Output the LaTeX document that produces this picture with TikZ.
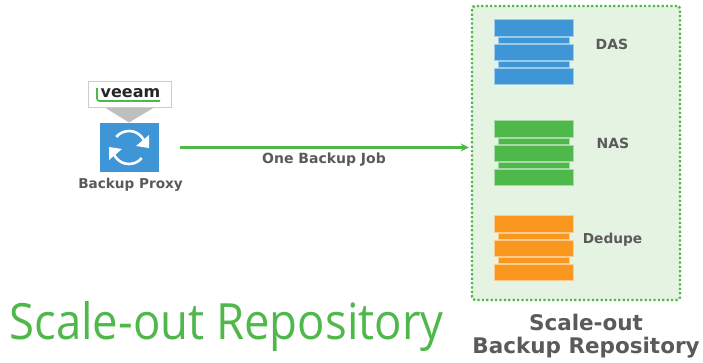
\documentclass[tikz,border=0pt]{standalone}
\usepackage{fontspec}
\setmainfont{DejaVu Sans}
\newfontfamily\titlefont{Open Sans}
\usetikzlibrary{arrows.meta}
\definecolor{vblue}{HTML}{3E96D6}
\definecolor{vgreen}{HTML}{4FB84B}
\definecolor{vorange}{HTML}{F9971E}
\definecolor{vtext}{HTML}{5A5A5A}
\definecolor{vpale}{HTML}{E5F3E2}
\tikzset{
  px/.style={x=1pt,y=-1pt},
  lbl/.style={text=vtext,font=\bfseries\fontsize{#1}{#1}\selectfont,inner sep=0pt,align=center},
  disk/.style={draw=white!50!#1,line width=.4pt,fill=#1},
  link/.style={draw=vgreen,line width=2.6pt,-{Stealth[length=8pt,width=8pt]}},
}
\newcommand{\diskstack}[4]{% name, left x, top y, colour
  \fill[disk=#4] (#2,#3) rectangle (#2+79,#3+17);
  \fill[disk=#4] (#2+4,#3+17.8) rectangle (#2+75,#3+24.4);
  \fill[disk=#4] (#2,#3+25) rectangle (#2+79,#3+41.5);
  \fill[disk=#4] (#2+4,#3+42.2) rectangle (#2+75,#3+48.4);
  \fill[disk=#4] (#2,#3+49) rectangle (#2+79,#3+65);
  \coordinate (#1) at (#2+39.5,#3+32.5);
}
\begin{document}
\begin{tikzpicture}[px]
\useasboundingbox (0,0) rectangle (703,362);
\fill[white] (0,0) rectangle (703,362);
% repository frame
\node[draw=vgreen,fill=vpale,line width=2.4pt,dash pattern=on 2.2pt off 2.2pt,rounded corners=3pt,
  minimum width=208pt,minimum height=294pt,inner sep=0pt] (repo) at (576,153) {};
\diskstack{das}{494}{19}{vblue}
\diskstack{nas}{494.5}{120}{vgreen}
\diskstack{dedupe}{494.5}{215}{vorange}
\node[lbl=14] (daslbl) at (612,44) {DAS};
\node[lbl=14] (naslbl) at (613,143.5) {NAS};
\node[lbl=13.7] (deduplbl) at (612.5,239.5) {Dedupe};
\node[lbl=21.5] (repolbl1) at (586,322) {Scale-out};
\node[lbl=21.5] (repolbl2) at (586,348) {Backup Repository};
% proxy
\fill[fill=black!25] (104,107) -- (155,107) -- (129,122.5) -- cycle;
\node[draw=black!20,fill=white,line width=.8pt,minimum width=83pt,minimum height=26pt,inner sep=0pt] (logo) at (129.5,94) {};
\node[text=black!85,font=\bfseries\fontsize{16}{16}\selectfont,inner sep=0pt] (veeam) at (130.5,93.5) {veeam};
\draw[vgreen,line width=1.6pt,rounded corners=2.5pt] (97,88) -- (97,101) -- (160,101);
\node[fill=vblue,minimum width=59pt,minimum height=49pt,inner sep=0pt] (proxy) at (129,147.5) {};
\draw[white,line width=2.6pt] (proxy.center) ++(170:16.5) arc[start angle=170,end angle=40,radius=16.5];
\draw[white,line width=2.6pt] (proxy.center) ++(-10:16.5) arc[start angle=-10,end angle=-140,radius=16.5];
\fill[white] (149,135) -- (149,148) -- (136,146) -- cycle;
\fill[white] (109,160) -- (109,147) -- (122,149) -- cycle;
\node[lbl=13.6] (proxylbl) at (130.5,185) {Backup Proxy};
% link
\draw[link,shorten <=21pt,shorten >=2pt] (proxy.east) -- (proxy.east -| repo.west);
\node[lbl=14] (joblbl) at (324,159.5) {One Backup Job};
% title
\node[text=vgreen,font=\titlefont\fontsize{50}{50}\selectfont,inner sep=0pt,xscale=.91] (title) at (226.5,327) {Scale-out Repository};
\end{tikzpicture}
\end{document}
